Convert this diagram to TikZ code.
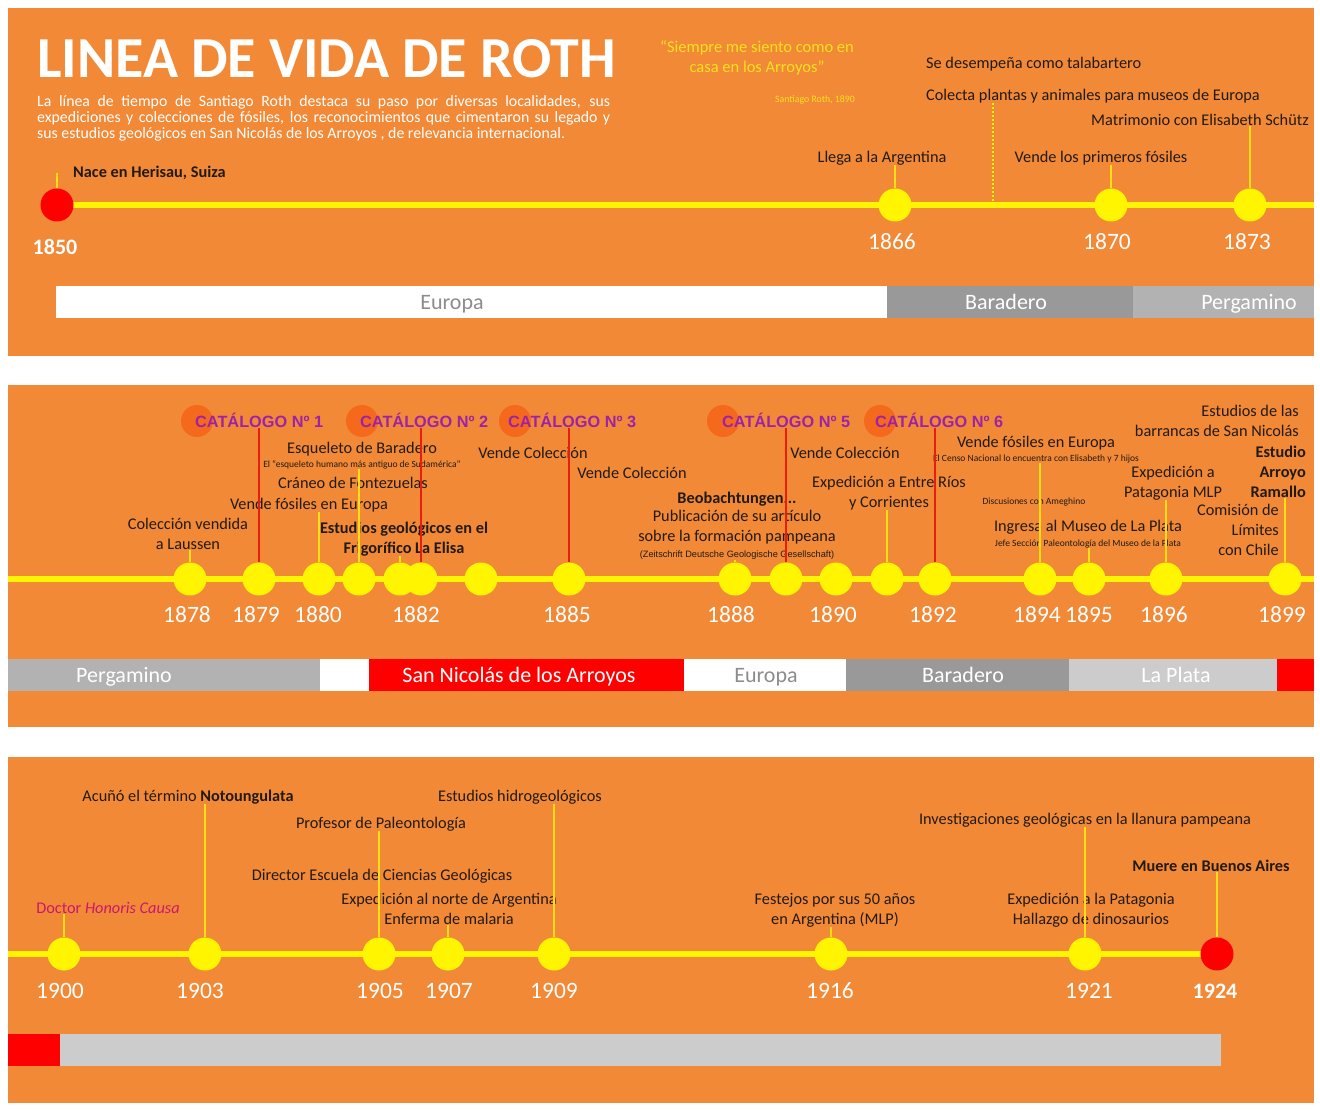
\documentclass[tikz,border=0pt]{standalone}
\usepackage{fontspec}
\setmainfont{Carlito}
\newfontfamily\arialf{Liberation Sans}
\usepackage{xcolor}
\usetikzlibrary{positioning}

\definecolor{bgor}{RGB}{242,137,54}
\definecolor{tlyel}{RGB}{255,245,0}
\definecolor{stemyel}{RGB}{255,222,20}
\definecolor{stemred}{RGB}{232,30,14}
\definecolor{catorg}{RGB}{245,105,28}
\definecolor{catpur}{RGB}{158,34,168}
\definecolor{ink}{RGB}{34,26,20}
\definecolor{quoteyel}{RGB}{250,226,30}
\definecolor{honmag}{RGB}{200,24,112}
\definecolor{dkgray}{RGB}{153,153,153}
\definecolor{mdgray}{RGB}{178,178,178}
\definecolor{ltgray}{RGB}{204,204,204}
\definecolor{eurtxt}{RGB}{140,140,140}

\newcommand\smtxt[1]{{\fontsize{9.5}{11}\selectfont #1}}

\begin{document}
\begin{tikzpicture}[x=1pt, y=-1pt,
  panel/.style={fill=bgor},
  axis/.style={draw=tlyel, line width=6pt},
  dot/.style={circle, fill=tlyel, minimum size=33pt, inner sep=0pt},
  rdot/.style={dot, fill=red},
  catdot/.style={circle, fill=catorg, minimum size=32pt, inner sep=0pt},
  cat/.style={font=\arialf\bfseries\fontsize{16.3}{18}\selectfont, text=catpur,
    anchor=mid west, inner sep=0pt, yshift=-4pt},
  lbl/.style={font=\fontsize{16.3}{20}\selectfont, text=ink, align=center,
    inner sep=0pt, anchor=mid, yshift=-3pt},
  yr/.style={font=\fontsize{23.5}{26}\selectfont, text=white, anchor=mid,
    inner sep=0pt, yshift=-5pt},
  bandtxt/.style={font=\fontsize{22}{24}\selectfont, text=white, anchor=mid,
    inner sep=0pt, yshift=-5pt},
  stem/.style={draw=stemyel, line width=2pt},
  rstem/.style={draw=stemred, line width=2pt}
]
\useasboundingbox (0,0) rectangle (1320,1110);
\fill[white] (0,0) rectangle (1320,1110);

% panels
\fill[panel] (8,8) rectangle (1314,356);
\fill[panel] (8,385) rectangle (1314,727);
\fill[panel] (8,757) rectangle (1314,1103);

% ---------- 1850 - 1873
\node[font=\bfseries\fontsize{58}{62}\selectfont, text=white, anchor=base west, inner sep=0pt]
  (ttl) at (37,78) {LINEA DE VIDA DE ROTH};
\node[font=\fontsize{15.8}{16}\selectfont, text=white, text width=573pt, align=justify,
  anchor=north west, inner sep=0pt] (intro) at (37,95)
  {La línea de tiempo de Santiago Roth destaca su paso por diversas localidades, sus\linebreak
   expediciones y colecciones de fósiles, los reconocimientos que cimentaron su legado y\linebreak
   sus estudios geológicos en San Nicolás de los Arroyos , de relevancia internacional.};
\node[lbl, text=quoteyel, font=\fontsize{16.5}{20}\selectfont] (quote) at (757,67) {“Siempre me siento como en\\casa en los Arroyos”};
\node[lbl, text=quoteyel, font=\fontsize{9.8}{11}\selectfont] (qsrc) at (815,97) {Santiago Roth, 1890};

\fill[white] (56,286) rectangle (887,318);
\fill[dkgray] (887,286) rectangle (1133,318);
\fill[mdgray] (1133,286) rectangle (1314,318);
\node[bandtxt, text=eurtxt] (eur1) at (452,302) {Europa};
\node[bandtxt] (bar1) at (1006,302) {Baradero};
\node[bandtxt] (per1) at (1249,302) {Pergamino};

\coordinate (a1s) at (57,205);
\coordinate (a1e) at (1314,205);
\draw[axis] (a1s) -- (a1e);
\coordinate (dotTop) at (993,103);
\draw[draw=tlyel, line width=2pt, dotted] (dotTop) -- (dotTop |- a1e);

\node[rdot] (y1850) at (57,205) {};
\foreach \n/\x in {1866/895, 1870/1111, 1873/1250}
  \node[dot] (y\n) at (\x,205) {};
\node[yr, font=\bfseries\fontsize{22}{24}\selectfont] (t1850) at (55,247) {1850};
\foreach \n/\x in {1866/892, 1870/1107, 1873/1247}
  \node[yr] (t\n) at (\x,242) {\n};

\node[lbl, anchor=mid west, font=\bfseries\fontsize{16.3}{20}\selectfont] (nace) at (73,172) {Nace en Herisau, Suiza};
\node[lbl] (llega) at (882,157) {Llega a la Argentina};
\node[lbl, anchor=mid west] (talab) at (926,63) {Se desempeña como talabartero};
\node[lbl, anchor=mid west] (colecta) at (926,95) {Colecta plantas y animales para museos de Europa};
\node[lbl] (vende70) at (1101,157) {Vende los primeros fósiles};
\node[lbl] (matri) at (1200,120) {Matrimonio con Elisabeth Schütz};

\draw[stem] (y1850.north) -- (y1850.north |- nace.center);
\foreach \d/\l in {y1866/llega, y1870/vende70, y1873/matri}
  \draw[stem] (\d.north) -- (\d.north |- \l.south);

% ---------- 1878 - 1899
\fill[mdgray] (8,659) rectangle (320,691);
\fill[white] (320,659) rectangle (369,691);
\fill[red] (369,659) rectangle (684,691);
\fill[white] (684,659) rectangle (846,691);
\fill[dkgray] (846,659) rectangle (1069,691);
\fill[ltgray] (1069,659) rectangle (1277,691);
\fill[red] (1277,659) rectangle (1314,691);
\node[bandtxt] (per2) at (124,675) {Pergamino};
\node[bandtxt] (snic) at (519,675) {San Nicolás de los Arroyos};
\node[bandtxt, text=eurtxt] (eur2) at (766,675) {Europa};
\node[bandtxt] (bar2) at (963,675) {Baradero};
\node[bandtxt] (lpla) at (1176,675) {La Plata};

\coordinate (a2s) at (8,579);
\coordinate (a2e) at (1314,579);
\draw[axis] (a2s) -- (a2e);
\foreach \n/\x in {1878/190, 1879/259, 1880/319, 1881/359, 1882a/400, 1882/421,
  1883/481, 1885/569, 1888/735, 1889/786, 1890/836, 1891/887, 1892/935,
  1894/1040, 1895/1089, 1896/1166, 1899/1285}
  \node[dot] (d\n) at (\x,579) {};
\foreach \n/\x in {1878/187, 1879/256, 1880/318, 1882/416, 1885/567, 1888/731,
  1890/833, 1892/933, 1894/1037, 1895/1089, 1896/1164, 1899/1282}
  \node[yr] (t\n) at (\x,615) {\n};

\foreach \k/\x in {1/197, 2/362, 3/515, 5/723, 6/880}
  \node[catdot] (cd\k) at (\x,421) {};
\foreach \k/\x in {1/195, 2/360, 3/508, 5/722, 6/875}
  \node[cat] (cat\k) at (\x,421) {CATÁLOGO Nº \k};

\node[lbl] (colv) at (188,544) {Colección vendida\\a Laussen};
\node[lbl] (esq) at (362,462) {Esqueleto de Baradero\\[-6pt]\smtxt{El “esqueleto humano más antiguo de Sudamérica”}};
\node[lbl] (cran) at (353,483) {Cráneo de Fontezuelas};
\node[lbl] (vfe1) at (309,504) {Vende fósiles en Europa};
\node[lbl, font=\bfseries\fontsize{16.3}{20}\selectfont] (estud) at (404,548) {Estudios geológicos en el\\Frigorífico La Elisa};
\node[lbl] (vcol1) at (533,453) {Vende Colección};
\node[lbl] (vcol2) at (632,473) {Vende Colección};
\node[lbl] (beob) at (737,552) {\textbf{Beobachtungen...}\\[-2pt]Publicación de su artículo\\sobre la formación pampeana\\[-4pt]{\arialf\fontsize{9.2}{10}\selectfont(Zeitschrift Deutsche Geologische Gesellschaft)}};
\node[lbl] (vcol3) at (845,453) {Vende Colección};
\node[lbl] (entre) at (889,502) {Expedición a Entre Ríos\\y Corrientes};
\node[lbl] (vfe2) at (1036,456) {Vende fósiles en Europa\\[-6pt]\smtxt{El Censo Nacional lo encuentra con Elisabeth y 7 hijos}};
\node[lbl, font=\fontsize{9.5}{11}\selectfont] (disc) at (1034,499) {Discusiones con Ameghino};
\node[lbl] (ingr) at (1088,541) {Ingresa al Museo de La Plata\\[-5pt]\smtxt{Jefe Sección Paleontología del Museo de la Plata}};
\node[lbl] (expat) at (1173,492) {Expedición a\\Patagonia MLP};
\node[lbl, anchor=mid east, align=right] (barr) at (1299,431) {Estudios de las\\barrancas de San Nicolás};
\node[lbl, anchor=mid east, align=right, font=\bfseries\fontsize{16.3}{20}\selectfont] (ramal) at (1306,492) {Estudio\\Arroyo\\Ramallo};
\node[lbl, anchor=mid east, align=right] (limit) at (1279,550) {Comisión de\\Límites\\con Chile};

\foreach \d/\l in {d1879/cat1, d1882/cat2, d1885/cat3, d1889/cat5, d1892/cat6}
  \draw[rstem] (\d.north) -- (\d.north |- \l.south);
\foreach \d/\l in {d1878/colv, d1880/vfe1, d1881/esq, d1882a/estud, d1888/beob,
  d1891/entre, d1894/vfe2, d1895/ingr, d1896/expat, d1899/ramal}
  \draw[stem] (\d.north) -- (\d.north |- \l.south);

% ---------- 1900 - 1924
\fill[red] (8,1034) rectangle (60,1066);
\fill[ltgray] (60,1034) rectangle (1221,1066);

\coordinate (a3s) at (8,954);
\coordinate (a3e) at (1217,954);
\draw[axis] (a3s) -- (a3e);
\foreach \n/\x in {1900/64, 1903/205, 1905/379, 1907/448, 1909/554, 1916/831, 1921/1085}
  \node[dot] (d\n) at (\x,954) {};
\node[rdot] (d1924) at (1217,954) {};
\foreach \n/\x in {1900/60, 1903/200, 1905/380, 1907/449, 1909/554, 1916/830, 1921/1089}
  \node[yr] (t\n) at (\x,991) {\n};
\node[yr, font=\bfseries\fontsize{22}{24}\selectfont] (t1924) at (1215,991) {1924};

\node[lbl, text=honmag] (honor) at (108,908) {Doctor \textit{Honoris Causa}};
\node[lbl] (notou) at (188,796) {Acuñó el término \textbf{Notoungulata}};
\node[lbl] (prof) at (381,823) {Profesor de Paleontología};
\node[lbl] (direc) at (382,875) {Director Escuela de Ciencias Geológicas};
\node[lbl] (norte) at (449,919) {Expedición al norte de Argentina\\Enferma de malaria};
\node[lbl] (hidro) at (520,796) {Estudios hidrogeológicos};
\node[lbl] (fest) at (835,919) {Festejos por sus 50 años\\en Argentina (MLP)};
\node[lbl] (invest) at (1085,819) {Investigaciones geológicas en la llanura pampeana};
\node[lbl] (patag) at (1091,919) {Expedición a la Patagonia\\Hallazgo de dinosaurios};
\node[lbl, font=\bfseries\fontsize{16.3}{20}\selectfont] (muere) at (1211,866) {Muere en Buenos Aires};

\foreach \d/\l in {d1900/honor, d1903/notou, d1905/prof, d1907/norte, d1909/hidro,
  d1916/fest, d1921/invest, d1924/muere}
  \draw[stem] (\d.north) -- (\d.north |- \l.south);
\end{tikzpicture}
\end{document}
